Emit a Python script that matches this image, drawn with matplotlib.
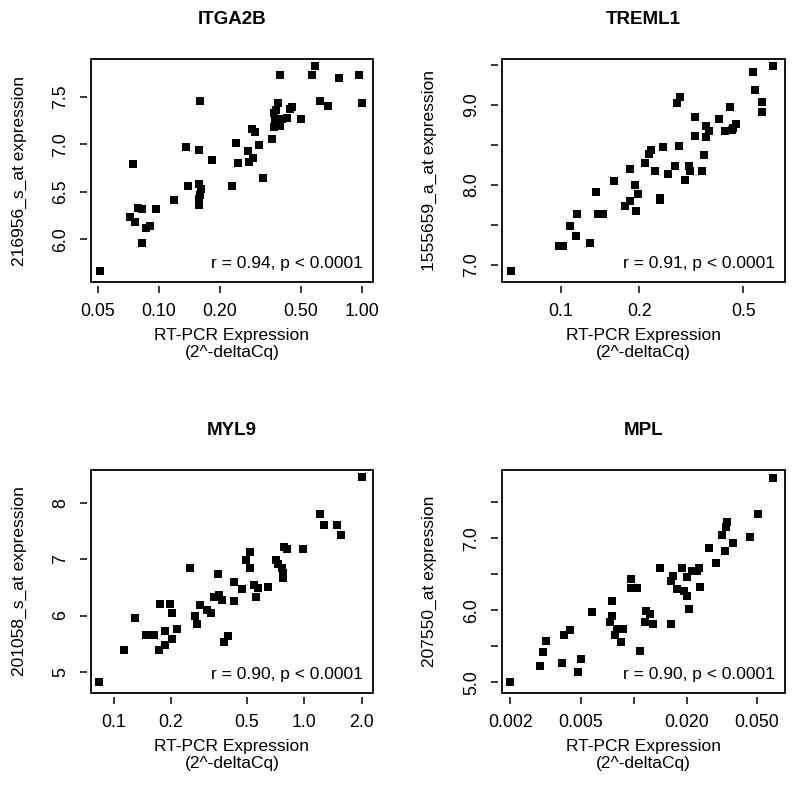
import matplotlib
matplotlib.use('Agg')
import matplotlib.pyplot as plt
from matplotlib.patches import Rectangle

plt.rcParams['font.family'] = ['Liberation Sans', 'DejaVu Sans']

# values (x = RT-PCR, y = array expression)
itga2b_x = [0.0512, 0.0743, 0.0724, 0.076, 0.0786, 0.083, 0.0823, 0.0862, 0.0908, 0.0966,
            0.1188, 0.1366, 0.1387, 0.1582, 0.160, 0.157, 0.162, 0.160, 0.158, 0.157,
            0.1834, 0.230, 0.240, 0.245, 0.2737, 0.277, 0.290, 0.288, 0.298, 0.3125,
            0.324, 0.359, 0.370, 0.367, 0.372, 0.387, 0.393, 0.393, 0.403, 0.428,
            0.440, 0.451, 0.501, 0.567, 0.590, 0.618, 0.677, 0.774, 0.967, 1.0, 0.378]
itga2b_y = [5.663, 6.787, 6.235, 6.18, 6.33, 6.32, 5.965, 6.12, 6.137, 6.32,
            6.41, 6.966, 6.562, 6.938, 7.454, 6.58, 6.53, 6.47, 6.42, 6.36,
            6.832, 6.562, 7.008, 6.80, 6.93, 6.81, 6.86, 7.156, 7.124, 6.99,
            6.646, 7.06, 7.177, 7.33, 7.27, 7.43, 7.728, 7.19, 7.27, 7.28,
            7.366, 7.39, 7.265, 7.728, 7.826, 7.454, 7.40, 7.693, 7.728, 7.43, 7.36]

treml1_x = [0.0644, 0.099, 0.102, 0.1082, 0.115, 0.116, 0.1298, 0.137, 0.1385, 0.145,
            0.1603, 0.177, 0.1835, 0.185, 0.192, 0.1945, 0.197, 0.2094, 0.217, 0.221,
            0.230, 0.239, 0.239, 0.246, 0.2585, 0.2748, 0.279, 0.2866, 0.284, 0.299,
            0.31, 0.312, 0.3265, 0.3265, 0.347, 0.354, 0.36, 0.36, 0.371, 0.404,
            0.424, 0.443, 0.451, 0.47, 0.458, 0.546, 0.556, 0.588, 0.588, 0.647]
treml1_y = [6.92, 7.233, 7.2375, 7.48, 7.354, 7.6375, 7.27, 7.904, 7.6375, 7.6375,
            8.05, 7.74, 7.80, 8.196, 8.0, 7.67, 7.88, 8.27, 8.38, 8.43,
            8.17, 7.83, 7.81, 8.47, 8.13, 8.23, 9.03, 9.10, 8.49, 8.06,
            8.24, 8.17, 8.85, 8.61, 8.17, 8.375, 8.74, 8.60, 8.67, 8.82,
            8.67, 8.97, 8.69, 8.76, 8.71, 9.41, 9.19, 9.04, 8.91, 9.49]

myl9_x = [0.0841, 0.1137, 0.1289, 0.1483, 0.162, 0.1757, 0.173, 0.1852, 0.185, 0.197,
          0.2033, 0.2033, 0.215, 0.2524, 0.266, 0.273, 0.285, 0.309, 0.324, 0.334,
          0.355, 0.354, 0.37, 0.378, 0.40, 0.426, 0.426, 0.4695, 0.497, 0.52,
          0.52, 0.546, 0.57, 0.5606, 0.643, 0.708, 0.73, 0.76, 0.77, 0.77,
          0.78, 0.81, 0.984, 1.213, 1.27, 1.48, 1.56, 2.007]
myl9_y = [4.817, 5.395, 5.965, 5.647, 5.647, 6.212, 5.395, 5.735, 5.48, 6.212,
          6.047, 5.59, 5.76, 6.835, 6.0, 5.85, 6.18, 6.09, 6.05, 6.32,
          6.37, 6.73, 6.28, 5.54, 5.63, 6.25, 6.59, 6.47, 6.99, 7.12,
          6.84, 6.54, 6.48, 6.32, 6.51, 6.99, 6.92, 6.845, 6.755, 6.67,
          7.22, 7.18, 7.18, 7.8, 7.6, 7.6, 7.43, 8.45]

mpl_x = [0.002, 0.00293, 0.00306, 0.00317, 0.00392, 0.00404, 0.00437, 0.00484, 0.005, 0.0058,
         0.00752, 0.00752, 0.00735, 0.0078, 0.0080, 0.00848, 0.00865, 0.00964, 0.0096, 0.0104,
         0.0108, 0.0116, 0.0118, 0.0124, 0.0129, 0.0141, 0.0162, 0.0162, 0.0168, 0.0177,
         0.0187, 0.0193, 0.020, 0.0205, 0.0201, 0.0213, 0.0229, 0.0238, 0.0236, 0.0268,
         0.0294, 0.0315, 0.033, 0.0334, 0.034, 0.0367, 0.0455, 0.0505, 0.0613]
mpl_y = [5.0, 5.23, 5.42, 5.57, 5.27, 5.66, 5.72, 5.14, 5.32, 5.97,
         6.125, 5.92, 5.84, 5.66, 5.74, 5.56, 5.74, 6.44, 6.31, 6.31,
         5.44, 5.84, 5.99, 5.95, 5.81, 6.58, 5.81, 6.41, 6.48, 6.30,
         6.58, 6.27, 6.20, 6.02, 6.46, 6.54, 6.54, 6.33, 6.58, 6.86,
         6.66, 7.04, 6.82, 7.15, 7.22, 6.94, 7.02, 7.33, 7.84]

titles = ['ITGA2B', 'TREML1', 'MYL9', 'MPL']
probes = ['216956_s_at expression', '1555659_a_at expression',
          '201058_s_at expression', '207550_at expression']
stats = ['r = 0.94, p < 0.0001', 'r = 0.91, p < 0.0001',
         'r = 0.90, p < 0.0001', 'r = 0.90, p < 0.0001']

xticks = [[0.05, 0.10, 0.20, 0.50, 1.00], [0.1, 0.2, 0.5],
          [0.1, 0.2, 0.5, 1.0, 2.0], [0.002, 0.005, 0.010, 0.020, 0.050]]
xticklabels = [['0.05', '0.10', '0.20', '0.50', '1.00'], ['0.1', '0.2', '0.5'],
               ['0.1', '0.2', '0.5', '1.0', '2.0'], ['0.002', '0.005', '', '0.020', '0.050']]
yticks = [[6.0, 6.5, 7.0, 7.5], [7.0, 7.5, 8.0, 8.5, 9.0, 9.5],
          [5, 6, 7, 8], [5.0, 5.5, 6.0, 6.5, 7.0, 7.5]]
yticklabels = [['6.0', '6.5', '7.0', '7.5'], ['7.0', '', '8.0', '', '9.0', ''],
               ['5', '6', '7', '8'], ['5.0', '', '6.0', '', '7.0', '']]

xs = [itga2b_x, treml1_x, myl9_x, mpl_x]
ys = [itga2b_y, treml1_y, myl9_y, mpl_y]
xlims = [(0.04638, 1.132), (0.05971, 0.7214), (0.07605, 2.292), (0.001794, 0.07205)]
ylims = [(5.550, 7.897), (6.783, 9.575), (4.629, 8.577), (4.852, 7.947)]

# axes boxes in pixels (left, top, right, bottom) of an 800x786 image
boxes = [(91, 59, 373, 282), (502, 59, 785, 282),
         (91, 470, 373, 693), (502, 470, 785, 693)]

fig = plt.figure(figsize=(8, 7.86), dpi=100)

for i in range(4):
    l, t, r, b = boxes[i]
    ax = fig.add_axes([l / 800, 1 - b / 786, (r - l) / 800, (b - t) / 786])
    ax.plot(xs[i], ys[i], 's', color='black', markersize=5.4, markeredgewidth=0)
    ax.set_xscale('log')
    ax.set_xlim(xlims[i])
    ax.set_ylim(ylims[i])
    ax.set_xticks(xticks[i])
    ax.set_xticklabels(xticklabels[i])
    ax.minorticks_off()
    ax.set_yticks(yticks[i])
    ax.set_yticklabels(yticklabels[i])

    # R style: ticks sit a little away from the box
    for side in ['top', 'right']:
        ax.spines[side].set_visible(False)
    for side in ['bottom', 'left']:
        ax.spines[side].set_position(('outward', 3))
        ax.spines[side].set_visible(False)
    ax.add_patch(Rectangle((0, 0), 1, 1, transform=ax.transAxes, fill=False,
                           lw=1.3, edgecolor='black', clip_on=False))
    ax.tick_params(axis='both', length=4.8, width=1.1, labelsize=12.8, color='black')
    ax.tick_params(axis='x', pad=7)
    ax.tick_params(axis='y', pad=8, labelrotation=90)
    for lab in ax.get_yticklabels():
        lab.set_va('center')

    ax.text(0.5, 1 + 39 / 223, titles[i], transform=ax.transAxes, ha='center',
            va='center', fontsize=13.5, fontweight='bold')
    ax.text(0.965, 0.081, stats[i], transform=ax.transAxes, ha='right',
            va='center', fontsize=12.5)

    ax.set_xlabel('RT-PCR Expression\n(2^-deltaCq)', fontsize=12.5, linespacing=1.2)
    ax.xaxis.set_label_coords(0.5, -0.205)
    ax.set_ylabel(probes[i], fontsize=12.5, va='center')
    ax.yaxis.set_label_coords(-0.255, 0.5)

fig.savefig('out.png', dpi=100)
